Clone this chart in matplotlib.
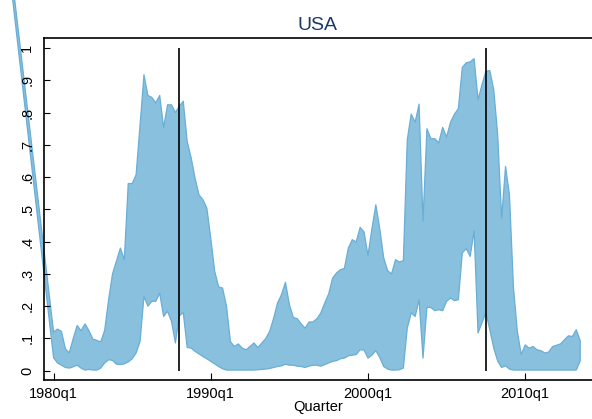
import matplotlib
matplotlib.use('Agg')
import matplotlib.pyplot as plt
import numpy as np

plt.rcParams['font.family'] = ['Liberation Sans', 'DejaVu Sans']
plt.rcParams['font.size'] = 10.5

# quarters in Stata tq() units (quarters since 1960q1); 80 = 1980q1
first_q = 80
# one stray earlier observation (1977q1) that Stata draws outside the plot region
early_q = 68
early_lo = 1.32
early_hi = 1.37

upper = [0.12, 0.129, 0.122, 0.068, 0.055, 0.10, 0.14, 0.124, 0.145, 0.124,
         0.098, 0.094, 0.089, 0.125, 0.22, 0.30, 0.34, 0.38, 0.344, 0.58,
         0.58, 0.607, 0.76, 0.917, 0.853, 0.847, 0.83, 0.853, 0.754, 0.824,
         0.824, 0.80, 0.82, 0.835, 0.71, 0.66, 0.597, 0.545, 0.53, 0.504,
         0.41, 0.308, 0.26, 0.256, 0.20, 0.09, 0.075, 0.083, 0.07, 0.065,
         0.075, 0.086, 0.072, 0.086, 0.10, 0.122, 0.163, 0.21, 0.236, 0.274,
         0.205, 0.165, 0.161, 0.145, 0.132, 0.151, 0.151, 0.161, 0.179, 0.21,
         0.238, 0.287, 0.303, 0.313, 0.317, 0.38, 0.406, 0.399, 0.444, 0.43,
         0.357, 0.44, 0.514, 0.44, 0.35, 0.31, 0.30, 0.344, 0.337, 0.341,
         0.716, 0.795, 0.77, 0.826, 0.463, 0.75, 0.719, 0.719, 0.706, 0.754,
         0.724, 0.77, 0.795, 0.812, 0.94, 0.954, 0.957, 0.967, 0.84, 0.886,
         0.928, 0.93, 0.871, 0.731, 0.473, 0.633, 0.545, 0.261, 0.122, 0.05,
         0.08, 0.07, 0.075, 0.065, 0.062, 0.055, 0.058, 0.075, 0.079, 0.083,
         0.096, 0.108, 0.106, 0.127, 0.093]

lower = [0.04, 0.024, 0.017, 0.01, 0.008, 0.012, 0.017, 0.008, 0.002, 0.004,
         0.002, 0.002, 0.008, 0.024, 0.034, 0.032, 0.02, 0.019, 0.021, 0.027,
         0.037, 0.055, 0.09, 0.23, 0.20, 0.215, 0.215, 0.24, 0.168, 0.184,
         0.153, 0.086, 0.17, 0.18, 0.072, 0.07, 0.06, 0.052, 0.044, 0.037,
         0.029, 0.021, 0.013, 0.006, 0.002, 0.002, 0.002, 0.002, 0.002, 0.002,
         0.002, 0.002, 0.003, 0.004, 0.005, 0.007, 0.01, 0.013, 0.015, 0.02,
         0.017, 0.017, 0.014, 0.013, 0.01, 0.014, 0.017, 0.017, 0.014, 0.019,
         0.024, 0.029, 0.031, 0.037, 0.039, 0.046, 0.048, 0.05, 0.065, 0.064,
         0.039, 0.048, 0.062, 0.041, 0.013, 0.005, 0.002, 0.002, 0.003, 0.008,
         0.132, 0.179, 0.168, 0.22, 0.039, 0.196, 0.196, 0.186, 0.189, 0.186,
         0.215, 0.225, 0.217, 0.22, 0.365, 0.378, 0.354, 0.434, 0.117, 0.148,
         0.18, 0.127, 0.07, 0.03, 0.01, 0.015, 0.005, 0.002, 0.002, 0.002,
         0.002, 0.002, 0.002, 0.002, 0.002, 0.002, 0.002, 0.002, 0.002, 0.002,
         0.002, 0.002, 0.002, 0.002, 0.03]

event_q = [112, 190]   # 1988q1, 2007q3
tick_q = [80, 120, 160, 200]
tick_labels = ['1980q1', '1990q1', '2000q1', '2010q1']
ytick_vals = [0, .1, .2, .3, .4, .5, .6, .7, .8, .9, 1]
ytick_labels = ['0', '.1', '.2', '.3', '.4', '.5', '.6', '.7', '.8', '.9', '1']

quarters = np.concatenate([[early_q], first_q + np.arange(len(upper))])
lo = np.concatenate([[early_lo], lower])
hi = np.concatenate([[early_hi], upper])

fig = plt.figure(figsize=(5.92, 4.19), dpi=100)
ax = fig.add_axes([0.0743, 0.0931, 0.9257, 0.8162])

band = ax.fill_between(quarters, lo, hi, facecolor='#88c0dd',
                       edgecolor='#6aaed6', linewidth=0.9)
band.set_clip_on(False)

ax.vlines(event_q, 0, 1, color='black', linewidth=1.2)

ax.set_xlim(first_q - 2.44, first_q + 137.0)
ax.set_ylim(-0.0288, 1.031)

ax.set_xticks(tick_q)
ax.set_xticklabels(tick_labels)
ax.set_yticks(ytick_vals)
ax.set_yticklabels(ytick_labels, rotation=90, va='center')
ax.tick_params(axis='x', direction='in', length=5, width=0.8, pad=5)
ax.tick_params(axis='y', direction='in', length=4, width=0.8, pad=7)
ax.set_xlabel('Quarter', labelpad=-1)

ax.spines['right'].set_visible(False)
for s in ['left', 'top', 'bottom']:
    ax.spines[s].set_linewidth(1.2)

fig.text(0.537, 0.94, 'USA', ha='center', va='center', fontsize=14,
         color='#1a3a6a')

fig.savefig('out.png', dpi=100)
